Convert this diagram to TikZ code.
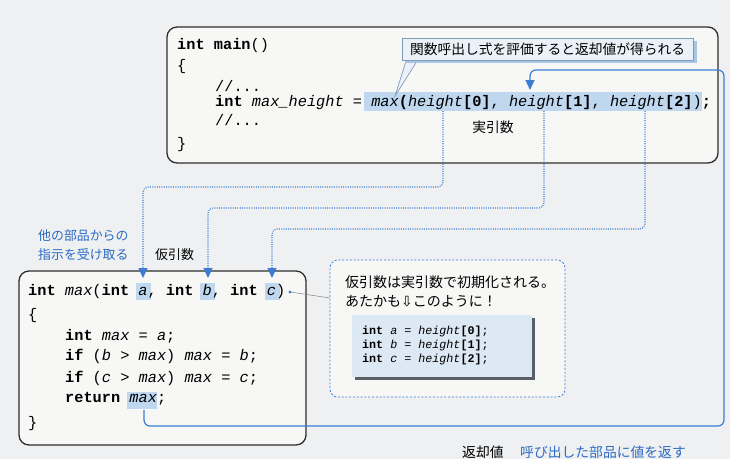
\documentclass[tikz,border=0pt]{standalone}
\usepackage{fontspec}
\setmonofont{Liberation Mono}
\newfontfamily\jp{Noto Sans CJK JP}
\newfontfamily\djv{DejaVu Sans}
\usetikzlibrary{arrows.meta}
\definecolor{bgc}{HTML}{EEF0F2}
\definecolor{boxfill}{HTML}{F7F7F6}
\definecolor{hl}{HTML}{BFD8EF}
\definecolor{bluel}{HTML}{3A7DD3}
\definecolor{bluet}{HTML}{2D6BC2}
\definecolor{boxline}{HTML}{2E2E2E}
\definecolor{callfill}{HTML}{EAF1F8}
\definecolor{callline}{HTML}{7F9BB8}
\definecolor{callshadow}{HTML}{A9C6E3}
\definecolor{innerfill}{HTML}{DCE8F3}
\definecolor{innershadow}{HTML}{5A5F66}
\tikzset{
  codebox/.style={draw=boxline, line width=1.3pt, rounded corners=10pt, fill=boxfill, inner sep=0pt},
  code/.style={anchor=base west, inner sep=0pt, font=\ttfamily\fontsize{15.3}{18}\selectfont},
  smallcode/.style={anchor=base west, inner sep=0pt, font=\ttfamily\fontsize{11.7}{14}\selectfont},
  jtext/.style={anchor=west, inner sep=0pt, font=\jp\fontsize{13.8}{16}\selectfont},
  jblue/.style={jtext, text=bluet},
  dotconn/.style={bluel, line width=1.1pt, dash pattern=on 1pt off 1.3pt, rounded corners=5pt,
    -{Triangle[width=9pt,length=10pt]}},
  retconn/.style={bluel, line width=1.2pt, rounded corners=6pt, -{Triangle[width=9pt,length=10pt]}},
}
\begin{document}
\begin{tikzpicture}[x=1pt,y=-1pt]
\useasboundingbox (0,0) rectangle (730,459);
\fill[bgc] (0,0) rectangle (730,459);

% ---------- top box (main) ----------
\node[codebox, minimum width=551pt, minimum height=136pt] (mainbox) at (442.5,95) {};
\fill[hl] (364,92) rectangle (702,111);
\node[code] (m1) at (177,49) {\textbf{int main}()};
\node[code] (m2) at (177,70) {\{};
\node[code, text height=7pt, text depth=0pt] (m3) at (215,91) {//...};
\node[code] (m4) at (215,106) {\textbf{int} \textit{max\_height} = \textit{max}\textbf{(}\textit{height}\textbf{[0]}, \textit{height}\textbf{[1]}, \textit{height}\textbf{[2]})\textbf{;}};
\node[code] (m5) at (215,125) {//...};
\node[code] (m6) at (177,148) {\}};
\node[anchor=center, inner sep=0pt, font=\jp\fontsize{13.8}{16}\selectfont] (jitsu) at (493,127) {実引数};

% ---------- callout on top ----------
\filldraw[fill=callfill, draw=callline, line width=0.7pt] (407,58) -- (395,96) -- (419,58) -- cycle;
\fill[callshadow] (405,41) rectangle (697,63);
\node[draw=callline, line width=0.7pt, fill=callfill, minimum width=291pt, minimum height=22pt, inner sep=0pt,
  font=\jp\fontsize{13.75}{16}\selectfont] (evalnote) at (547.5,49) {関数呼出し式を評価すると返却値が得られる};

% ---------- bottom box (max) ----------
\node[codebox, minimum width=287pt, minimum height=174pt] (maxbox) at (162.5,358) {};
\fill[hl] (136,283) rectangle (151,300);
\fill[hl] (200,283) rectangle (215,300);
\fill[hl] (265,283) rectangle (280,300);
\fill[hl] (127,392) rectangle (157,409);
\node[code] (f1) at (28,295) {\textbf{int} \textit{max}(\textbf{int} \textit{a}, \textbf{int} \textit{b}, \textbf{int} \textit{c})};
\node[code] (f2) at (28,319) {\{};
\node[code] (f3) at (65,340) {\textbf{int} \textit{max} = \textit{a};};
\node[code] (f4) at (65,360) {\textbf{if} (\textit{b} > \textit{max}) \textit{max} = \textit{b};};
\node[code] (f5) at (65,382) {\textbf{if} (\textit{c} > \textit{max}) \textit{max} = \textit{c};};
\node[code] (f6) at (65,402) {\textbf{return} \textit{max};};
\node[code] (f7) at (28,427) {\}};

% ---------- labels ----------
\node[jblue, font=\jp\fontsize{12.9}{15}\selectfont] (lab1) at (38,236) {他の部品からの};
\node[jblue, font=\jp\fontsize{12.9}{15}\selectfont] (lab2) at (38,255) {指示を受け取る};
\node[jtext, font=\jp\fontsize{13}{15}\selectfont] (kari) at (155,255) {仮引数};
\node[jtext] (henkyaku) at (462,452) {返却値};
\node[jblue] (yobidashi) at (520,452) {呼び出した部品に値を返す};

% ---------- dashed note ----------
\node[draw=bluel, line width=0.8pt, dash pattern=on 2pt off 1.8pt, rounded corners=8pt, fill=boxfill,
  minimum width=235pt, minimum height=137pt, inner sep=0pt] (note) at (447.5,328.5) {};
\node[jtext, font=\jp\fontsize{14}{16}\selectfont] (n1) at (345,282) {仮引数は実引数で初期化される。};
\node[jtext, font=\jp\fontsize{14}{16}\selectfont] (n2) at (345,301) {あたかも{\djv ⇩}このように！};
\fill[innershadow] (355,318) rectangle (535,380);
\fill[innerfill] (352,315) rectangle (532,377);
\node[smallcode] (c1) at (362,334) {\textbf{int} \textit{a} = \textit{height}\textbf{[0]};};
\node[smallcode] (c2) at (362,348) {\textbf{int} \textit{b} = \textit{height}\textbf{[1]};};
\node[smallcode] (c3) at (362,362) {\textbf{int} \textit{c} = \textit{height}\textbf{[2]};};

% connector from c) to note
\coordinate (cdot) at (290,292);
\coordinate (noteL) at (330,298);
\fill[bluel] (cdot) circle (1.6pt);
\draw[gray, line width=0.5pt] (cdot) -- (noteL);

% ---------- dotted argument connectors ----------
\coordinate (h0) at (443,111);
\coordinate (h1) at (544,111);
\coordinate (h2) at (645,111);
\coordinate (pa) at (143,278);
\coordinate (pb) at (208,278);
\coordinate (pc) at (272,278);
\draw[dotconn] (h0) -- (443,187) -- (143,187) -- (pa);
\draw[dotconn] (h1) -- (544,208) -- (208,208) -- (pb);
\draw[dotconn] (h2) -- (645,229) -- (272,229) -- (pc);

% ---------- return value connector ----------
\coordinate (rv) at (144,410);
\coordinate (rt) at (530,90);
\draw[retconn] (rv) -- (144,426) -- (724,426) -- (724,70) -- (530,70) -- (rt);
\end{tikzpicture}
\end{document}
